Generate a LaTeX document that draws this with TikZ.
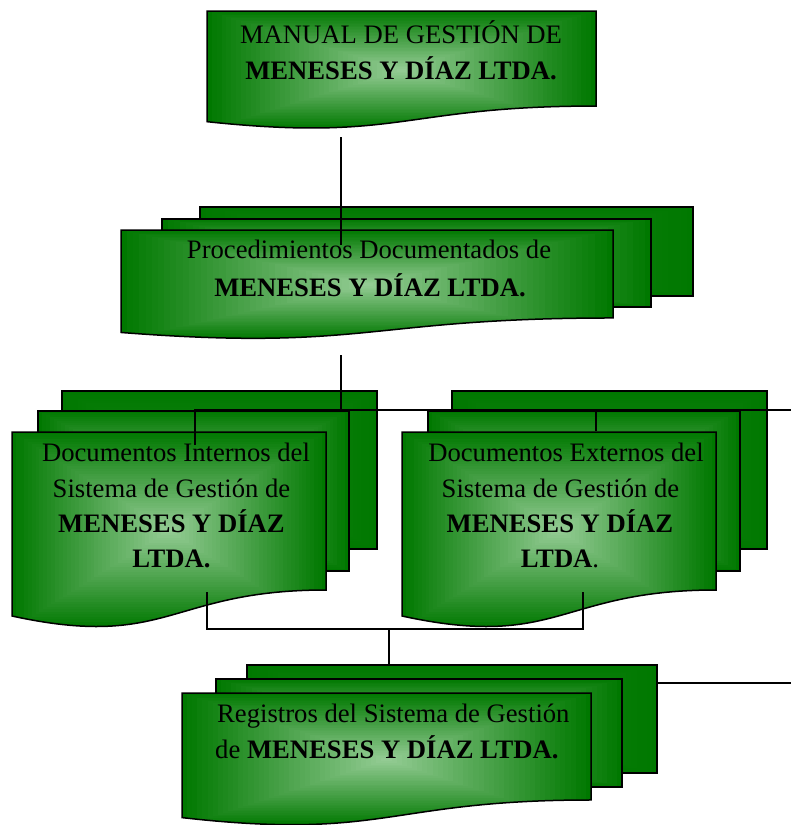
\documentclass[tikz,border=0pt]{standalone}
\usepackage{fontspec}
\setmainfont{Liberation Serif}
\definecolor{dkg}{RGB}{0,120,0}
\definecolor{lgg}{RGB}{150,205,150}
\colorlet{lgb}{dkg!80!lgg}
\tikzset{
  border/.style={draw=black,line width=1.5pt,line join=miter},
  conn/.style={draw=black,line width=1.2pt},
  txt/.style={inner sep=0pt,font=\fontsize{26.65}{32}\selectfont},
  btxt/.style={inner sep=0pt,font=\fontsize{26.65}{32}\selectfont\bfseries},
}
% rectangular "from centre" gradient inside the current clip: inner colour, L T R B
\newcommand\mdGrad[5]{%
  \fill[dkg] ({#2-10},{#3-10}) rectangle ({#4+10},{#5+40});
  \foreach \k in {40,39,...,1}{%
    \pgfmathsetmacro\mdhw{(#4-#2)/2*\k/40}%
    \pgfmathsetmacro\mdhh{((#5)-(#3))/2*\k/40}%
    \pgfmathtruncatemacro\mdpc{100*\k/40}%
    \fill[dkg!\mdpc!#1] ({(#2+#4)/2-\mdhw},{((#3)+(#5))/2-\mdhh}) rectangle ({(#2+#4)/2+\mdhw},{((#3)+(#5))/2+\mdhh});
  }}
% plain page of a stack: inner colour, L T R B
\newcommand\mdRect[5]{%
  \begin{scope}\clip (#2,#3) rectangle (#4,#5); \mdGrad{#1}{#2}{#3}{#4}{#5}\end{scope}
  \draw[border] (#2,#3) rectangle (#4,#5);}
% document shape with wavy bottom: L T R H
\newcommand\mdDoc[4]{%
  \begin{scope}
    \clip (#1,#2) -- (#3,#2) -- (#3,{#2+0.802*#4}) .. controls ({(#1+#3)/2},{#2+0.802*#4}) and ({(#1+#3)/2},{#2+1.1075*#4}) .. (#1,{#2+0.934*#4}) -- cycle;
    \mdGrad{lgg}{#1}{#2}{#3}{#2+#4}
  \end{scope}
  \draw[border] (#1,#2) -- (#3,#2) -- (#3,{#2+0.802*#4}) .. controls ({(#1+#3)/2},{#2+0.802*#4}) and ({(#1+#3)/2},{#2+1.1075*#4}) .. (#1,{#2+0.934*#4}) -- cycle;}
\begin{document}
\begin{tikzpicture}[x=1pt,y=-1pt]
\useasboundingbox (0,0) rectangle (791,825);
\clip (0,0) rectangle (791,825);
% ---- shapes
\mdDoc{207}{11}{596}{118.5}
\mdRect{lgb}{200}{207}{693}{296}
\mdRect{lgg}{162}{219}{651}{307}
\mdDoc{121}{230}{613}{109.7}
\mdRect{lgb}{62}{391}{377}{549}
\mdRect{lgg}{38}{411}{349}{571}
\mdDoc{12}{432}{326}{197}
\mdRect{lgb}{452}{391}{767}{549}
\mdRect{lgg}{428}{411}{740}{571}
\mdDoc{402}{432}{716}{197}
\mdRect{lgb}{247}{665}{657}{773}
\mdRect{lgg}{216}{679}{622}{787}
\mdDoc{182}{693}{591}{133.4}
% ---- connector points
\coordinate (manB) at (341,137);
\coordinate (procT) at (341,245);
\coordinate (procB) at (341,355);
\coordinate (busL) at (195,410);
\coordinate (busM) at (341,410);
\coordinate (busR) at (800,410);
\coordinate (intT) at (195,445);
\coordinate (extT) at (596,431);
\coordinate (extJ) at (596,410);
\coordinate (intB) at (207,592);
\coordinate (intJ) at (207,629);
\coordinate (extB) at (583,592);
\coordinate (extK) at (583,629);
\coordinate (regJ) at (389,629);
\coordinate (regT) at (389,665);
\coordinate (regR) at (657,683);
\coordinate (regE) at (800,683);
\draw[conn] (manB) -- (procT);
\draw[conn] (procB) -- (busM);
\draw[conn] (intT) -- (busL) -- (busR);
\draw[conn] (extJ) -- (extT);
\draw[conn] (intB) -- (intJ) -- (extK) -- (extB);
\draw[conn] (regJ) -- (regT);
\draw[conn] (regR) -- (regE);
% ---- texts
\node[txt,anchor=base] (t1a) at (401,43) {MANUAL DE GESTIÓN DE};
\node[btxt,anchor=base] (t1b) at (401,79) {MENESES Y DÍAZ LTDA.};
\node[txt,anchor=base] (t2a) at (369,258) {Procedimientos Documentados de};
\node[btxt,anchor=base] (t2b) at (370,296) {MENESES Y DÍAZ LTDA.};
\node[txt,anchor=base] (t3a) at (176,461) {Documentos Internos del};
\node[txt,anchor=base] (t3b) at (171.5,497) {Sistema de Gestión de};
\node[btxt,anchor=base] (t3c) at (171.5,532) {MENESES Y DÍAZ};
\node[btxt,anchor=base] (t3d) at (171.5,567) {LTDA.};
\node[txt,anchor=base] (t4a) at (566,461) {Documentos Externos del};
\node[txt,anchor=base] (t4b) at (560.5,497) {Sistema de Gestión de};
\node[btxt,anchor=base] (t4c) at (560,532) {MENESES Y DÍAZ};
\node[txt,anchor=base] (t4d) at (560,567) {\textbf{LTDA}.};
\node[txt,anchor=base west] (t5a) at (217,722) {Registros del Sistema de Gestión};
\node[txt,anchor=base west] (t5b) at (215,758) {de \textbf{MENESES Y DÍAZ LTDA.}};
\end{tikzpicture}
\end{document}
